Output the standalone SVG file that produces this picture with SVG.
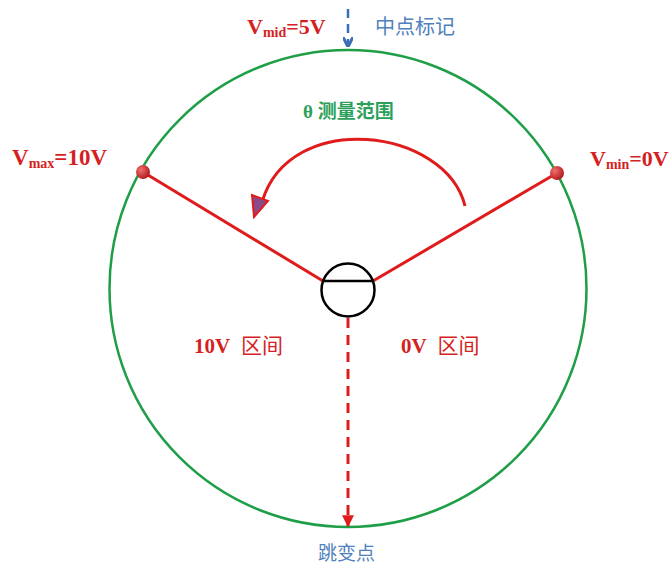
<svg xmlns="http://www.w3.org/2000/svg" width="671" height="565" viewBox="0 0 671 565">
<defs>
<style>
.lbl{font-family:"Liberation Serif","Noto Sans CJK SC",serif;font-weight:bold;fill:#d61f1f}
.cjk{font-family:"Noto Sans CJK SC",sans-serif}
.blue{fill:#4f81bd}
.red{stroke:#e01b1b;stroke-width:3;fill:none}
</style>
<marker id="ah" viewBox="0 0 10 10" refX="9" refY="5" markerWidth="4" markerHeight="4" orient="auto-start-reverse" markerUnits="strokeWidth">
<path d="M0,0 L10,5 L0,10 z" fill="#e01b1b"/>
</marker>
<marker id="ahb" viewBox="0 0 10 10" refX="9" refY="5" markerWidth="4" markerHeight="4" orient="auto" markerUnits="strokeWidth">
<path d="M0,0 L10,5 L0,10" fill="none" stroke="#3a6fb5" stroke-width="3"/>
</marker>
<radialGradient id="dot" cx="0.35" cy="0.35" r="0.7">
<stop offset="0" stop-color="#f07070"/>
<stop offset="1" stop-color="#b01818"/>
</radialGradient>
</defs>
<g id="outer-circle">
<circle cx="348" cy="288.5" r="238.5" fill="none" stroke="#1e9e46" stroke-width="2.5"/>
</g>
<g id="connectors">
<line class="red" x1="143" y1="172" x2="323" y2="281"/>
<line class="red" x1="557" y1="173" x2="373" y2="281"/>
<line x1="348" y1="318" x2="348" y2="526" stroke="#e01b1b" stroke-width="3" stroke-dasharray="10,7" marker-end="url(#ah)"/>
<line x1="348" y1="9" x2="348" y2="46" stroke="#3a6fb5" stroke-width="2.5" stroke-dasharray="9,6" marker-end="url(#ahb)"/>
<path d="M465 206 C 446 128, 290 108, 262 202" fill="none" stroke="#e01b1b" stroke-width="3"/>
<path d="M254 217 L252 195 L268 201 Z" fill="#8a4a8a" stroke="#e01b1b" stroke-width="2" stroke-linejoin="miter"/>
</g>
<g id="center-node">
<circle cx="348" cy="290" r="26.5" fill="#ffffff" stroke="#000" stroke-width="2.5"/>
<line x1="322" y1="281" x2="374" y2="281" stroke="#000" stroke-width="2.5"/>
</g>
<g id="vmax-node">
<circle cx="143" cy="172" r="7" fill="url(#dot)"/>
<text class="lbl" x="12" y="165" font-size="23">V<tspan font-size="14" dy="3">max</tspan><tspan dy="-3">=10V</tspan></text>
</g>
<g id="vmin-node">
<circle cx="557" cy="173" r="7" fill="url(#dot)"/>
<text class="lbl" x="590" y="166" font-size="22">V<tspan font-size="14" dy="3">min</tspan><tspan dy="-3">=0V</tspan></text>
</g>
<g id="vmid-label">
<text class="lbl" x="247" y="34" font-size="22">V<tspan font-size="14" dy="3">mid</tspan><tspan dy="-3">=5V</tspan></text>
<text class="cjk blue" x="375" y="34" font-size="20">中点标记</text>
</g>
<g id="theta-label">
<text x="303" y="118" font-size="19" font-weight="bold" fill="#2aa05a" font-family="'Liberation Serif','Noto Sans CJK SC',serif">θ <tspan font-family="'Noto Sans CJK SC',sans-serif">测量范围</tspan></text>
</g>
<g id="zone-10v">
<text class="lbl" x="194" y="353" font-size="21">10V <tspan dx="6" font-family="'Noto Sans CJK SC',sans-serif" font-weight="normal">区间</tspan></text>
</g>
<g id="zone-0v">
<text class="lbl" x="401" y="353" font-size="21">0V <tspan dx="6" font-family="'Noto Sans CJK SC',sans-serif" font-weight="normal">区间</tspan></text>
</g>
<g id="jump-label">
<text class="cjk blue" x="318" y="560" font-size="19">跳变点</text>
</g>
</svg>
